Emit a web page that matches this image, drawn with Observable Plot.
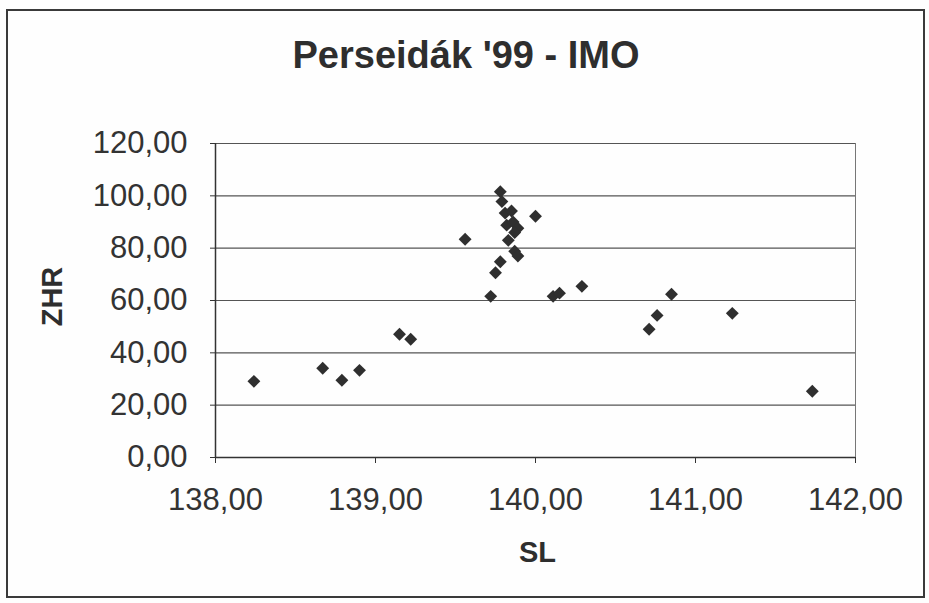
<!DOCTYPE html>
<html>
<head>
<meta charset="utf-8">
<script src="https://cdn.jsdelivr.net/npm/d3@7"></script>
<script src="https://cdn.jsdelivr.net/npm/@observablehq/plot@0.6"></script>
<style>
  html, body { margin: 0; padding: 0; background: #fefefe; }
  #wrap { position: relative; width: 929px; height: 603px; overflow: hidden; font-family: "Liberation Sans", Arial, sans-serif; }
  #frame { position: absolute; left: 6px; top: 9px; width: 915px; height: 585px; border: 2px solid #3a3a3a; box-sizing: content-box; }
  #title { position: absolute; left: 0; width: 932px; top: 36px; line-height: 1; text-align: center; font-size: 38px; font-weight: bold; color: #2e2e2e; letter-spacing: 0; }
  #chart { position: absolute; left: 0; top: 0; }
</style>
</head>
<body>
<div id="wrap">
  <div id="frame"></div>
  <div id="title"></div>
  <div id="chart"></div>
</div>
<script>
const title = "Perseidák '99 - IMO";
const xLabel = "SL";
const yLabel = "ZHR";
const xTicks = [138, 139, 140, 141, 142];
const yTicks = [0, 20, 40, 60, 80, 100, 120];
const sl  = [138.24, 138.67, 138.79, 138.90, 139.15, 139.22, 139.56, 139.72, 139.75, 139.78,
             139.78, 139.79, 139.81, 139.85, 139.82, 139.86, 139.89, 139.87, 139.83, 139.87,
             139.89, 140.00, 140.11, 140.15, 140.29, 140.71, 140.76, 140.85, 141.23, 141.73];
const zhr = [29.1, 34.1, 29.5, 33.3, 47.1, 45.2, 83.4, 61.6, 70.6, 74.8,
             101.6, 97.8, 93.4, 94.2, 88.8, 90.0, 87.6, 86.0, 83.0, 78.8,
             77.0, 92.2, 61.6, 62.8, 65.4, 49.0, 54.3, 62.4, 55.1, 25.3];

document.getElementById("title").textContent = title;
const data = sl.map((x, i) => ({sl: x, zhr: zhr[i]}));
const fmt = d => d.toFixed(2).replace(".", ",");

const chart = Plot.plot({
  width: 929,
  height: 603,
  marginLeft: 215,
  marginRight: 74,
  marginTop: 143,
  marginBottom: 146,
  style: {fontFamily: "'Liberation Sans', Arial, sans-serif", fontSize: "31px", color: "#333", background: "transparent"},
  x: {domain: [138, 142], label: null},
  y: {domain: [0, 120], label: null},
  marks: [
    Plot.gridY(yTicks, {stroke: "#555", strokeOpacity: 1, strokeWidth: 1.2}),
    Plot.ruleX([142], {stroke: "#777", strokeWidth: 1}),
    Plot.ruleX([138], {stroke: "#333", strokeWidth: 1.5}),
    Plot.ruleY([0], {stroke: "#333", strokeWidth: 1.5}),
    Plot.axisY({ticks: yTicks, tickFormat: fmt, tickSize: 5, tickPadding: 23, stroke: "#333", fill: "#333", fontSize: 31, label: null}),
    Plot.axisX({ticks: xTicks, tickFormat: fmt, tickSize: 6, tickPadding: 24, stroke: "#333", fill: "#333", fontSize: 31, label: null}),
    Plot.dot(data, {x: "sl", y: "zhr", symbol: "diamond2", r: 5.8, fill: "#2f2f2f", stroke: "none"}),
    Plot.text([yLabel], {frameAnchor: "left", textAnchor: "middle", dx: -163, dy: -4, rotate: -90, fontWeight: "bold", fontSize: 29, fill: "#2e2e2e"}),
    Plot.text([xLabel], {frameAnchor: "bottom", textAnchor: "middle", dx: 2, dy: 104, fontWeight: "bold", fontSize: 29, fill: "#2e2e2e"})
  ]
});
document.getElementById("chart").appendChild(chart);
</script>
</body>
</html>
